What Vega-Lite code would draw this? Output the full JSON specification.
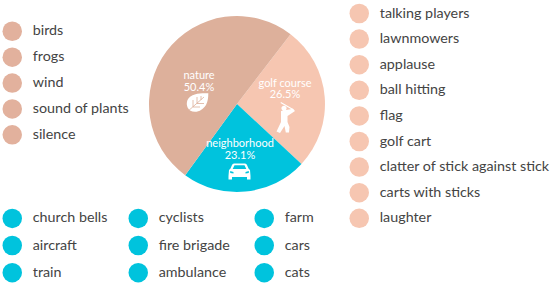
{
"$schema":"https://vega.github.io/schema/vega-lite/v6.json",
"width":474,"height":208,
"autosize":{"type":"none"},
"padding":{"left":0,"top":0,"right":76,"bottom":77},
"background":"white",
"view":{"stroke":null},
"datasets":{
"slices":[
{"group":"golf course","share":26.5,"pos":1,"label":"golf course\n26.5%"},
{"group":"neighborhood","share":23.1,"pos":2,"label":"neighborhood\n23.1%"},
{"group":"nature","share":50.4,"pos":3,"label":"nature\n50.4%"}
],
"sounds":[
{"item":"birds","group":"nature"},{"item":"frogs","group":"nature"},{"item":"wind","group":"nature"},{"item":"sound of plants","group":"nature"},{"item":"silence","group":"nature"},
{"item":"talking players","group":"golf course"},{"item":"lawnmowers","group":"golf course"},{"item":"applause","group":"golf course"},{"item":"ball hitting","group":"golf course"},{"item":"flag","group":"golf course"},{"item":"golf cart","group":"golf course"},{"item":"clatter of stick against stick","group":"golf course"},{"item":"carts with sticks","group":"golf course"},{"item":"laughter","group":"golf course"},
{"item":"church bells","group":"neighborhood"},{"item":"aircraft","group":"neighborhood"},{"item":"train","group":"neighborhood"},{"item":"cyclists","group":"neighborhood"},{"item":"fire brigade","group":"neighborhood"},{"item":"ambulance","group":"neighborhood"},{"item":"farm","group":"neighborhood"},{"item":"cars","group":"neighborhood"},{"item":"cats","group":"neighborhood"}
]},
"config":{"legend":{"labelFont":"Lato","labelFontSize":14.3,"labelColor":"#444444","labelLimit":300,"symbolSize":380,"symbolStrokeWidth":0,"symbolOpacity":1,"labelOffset":10.5,"title":null,"orient":"none","padding":0,"symbolType":"circle"}},
"layer":[
{"data":{"name":"sounds"},"transform":[{"filter":"datum.group==='nature'"}],"mark":{"type":"point","filled":true,"opacity":0},
 "encoding":{"color":{"field":"item","type":"nominal","sort":null,"scale":{"range":["#e2b19d"]},"legend":{"title":null,"orient":"none","legendX":2.25,"legendY":21.25,"rowPadding":5.9,"symbolOpacity":1}}}},
{"data":{"name":"sounds"},"transform":[{"filter":"datum.group==='golf course'"}],"mark":{"type":"point","filled":true,"opacity":0},
 "encoding":{"color":{"field":"item","type":"nominal","sort":null,"scale":{"range":["#f6c6b1"]},"legend":{"title":null,"orient":"none","legendX":349.25,"legendY":3.5,"rowPadding":5.6,"symbolOpacity":1}}}},
{"data":{"name":"sounds"},"transform":[{"filter":"datum.group==='neighborhood'"}],"mark":{"type":"point","filled":true,"opacity":0},
 "encoding":{"color":{"field":"item","type":"nominal","sort":null,"scale":{"range":["#00c3dd"]},"legend":{"title":null,"orient":"none","legendX":2.25,"legendY":208.3,"columns":3,"gridAlign":"all","columnPadding":20,"rowPadding":7.2,"symbolOpacity":1}}}},
{"data":{"name":"slices"},"mark":{"type":"arc","outerRadius":88},
 "encoding":{"theta":{"field":"share","type":"quantitative","stack":true,"scale":{"range":[0.6545,6.9377]}},"order":{"field":"pos","type":"ordinal"},
 "color":{"field":"group","type":"nominal","legend":null,"scale":{"domain":["nature","golf course","neighborhood"],"range":["#ddb09b","#f6c6b1","#00c3dd"]}}}},
{"data":{"name":"slices"},"transform":[{"filter":"datum.group==='nature'"}],"mark":{"type":"text","color":"white","font":"Lato","fontSize":11,"lineBreak":"\n","lineHeight":11.7,"dx":-38,"dy":-27.7},"encoding":{"text":{"field":"label"}}},
{"data":{"name":"slices"},"transform":[{"filter":"datum.group==='golf course'"}],"mark":{"type":"text","color":"white","font":"Lato","fontSize":11,"lineBreak":"\n","lineHeight":11.7,"dx":48,"dy":-20.5},"encoding":{"text":{"field":"label"}}},
{"data":{"name":"slices"},"transform":[{"filter":"datum.group==='neighborhood'"}],"mark":{"type":"text","color":"white","font":"Lato","fontSize":11,"lineBreak":"\n","lineHeight":11.7,"dx":3,"dy":40.2},"encoding":{"text":{"field":"label"}}},
{"data":{"name":"slices"},"transform":[{"filter":"datum.group==='nature'"}],"mark":{"type":"point","filled":true,"opacity":1,"color":"white","strokeWidth":0,"size":4,"shape":"M-28.7,-10.7 C-35,-11 -46,-11 -49.5,-4 C-51,0 -50,4 -47,6.5 C-41,10 -34,6 -31,1 C-29,-3 -28.7,-7 -28.7,-10.7 Z"},"encoding":{}},
{"data":{"name":"slices"},"transform":[{"filter":"datum.group==='nature'"}],"mark":{"type":"point","filled":false,"opacity":1,"color":"#ddb09b","strokeWidth":0.8,"size":4,"shape":"M-50,8 L-33,-7 M-44,3 L-44,-4 M-40,-0.5 L-40,-7 M-36,-4 L-36,-8 M-44,3 L-37,3 M-40,-0.5 L-33,-0.5"},"encoding":{}},
{"data":{"name":"slices"},"transform":[{"filter":"datum.group==='golf course'"}],"mark":{"type":"point","filled":true,"opacity":1,"color":"white","strokeWidth":0,"size":4,"shape":"M44,7 L56,4.8 L58,7 L50.5,12 L50.5,18 L52.5,23 L52,28.5 L48.8,28.5 L47.5,22 L43,29 L39.5,27.5 L44,18 Z M44,-2 L57,5.5 L56.5,6.5 L43.5,-1 Z M49.6,4.3 a2.6,2.6 0 1 1 -5.2,0 a2.6,2.6 0 1 1 5.2,0 Z"},"encoding":{}},
{"data":{"name":"slices"},"transform":[{"filter":"datum.group==='neighborhood'"}],"mark":{"type":"point","filled":true,"opacity":1,"color":"white","strokeWidth":0,"size":4,"shape":"M-3,59.5 L8,59.5 Q9.5,59.5 10,61 L11.5,64.5 L13,66 L13.5,72 L13.5,75.5 L10,75.5 L10,73 L-5,73 L-5,75.5 L-8.5,75.5 L-8.5,72 L-8,66 L-6.5,64.5 L-5,61 Q-4.5,59.5 -3,59.5 Z M-2.5,61.2 L-4.3,65 L9.3,65 L7.5,61.2 Z M-6.8,67 L-6.8,69 L-3.5,69.5 L-3.5,68 Z M11.8,67 L8.5,68 L8.5,69.5 L11.8,69 Z"},"encoding":{}}
],
"resolve":{"scale":{"color":"independent"}}
}
